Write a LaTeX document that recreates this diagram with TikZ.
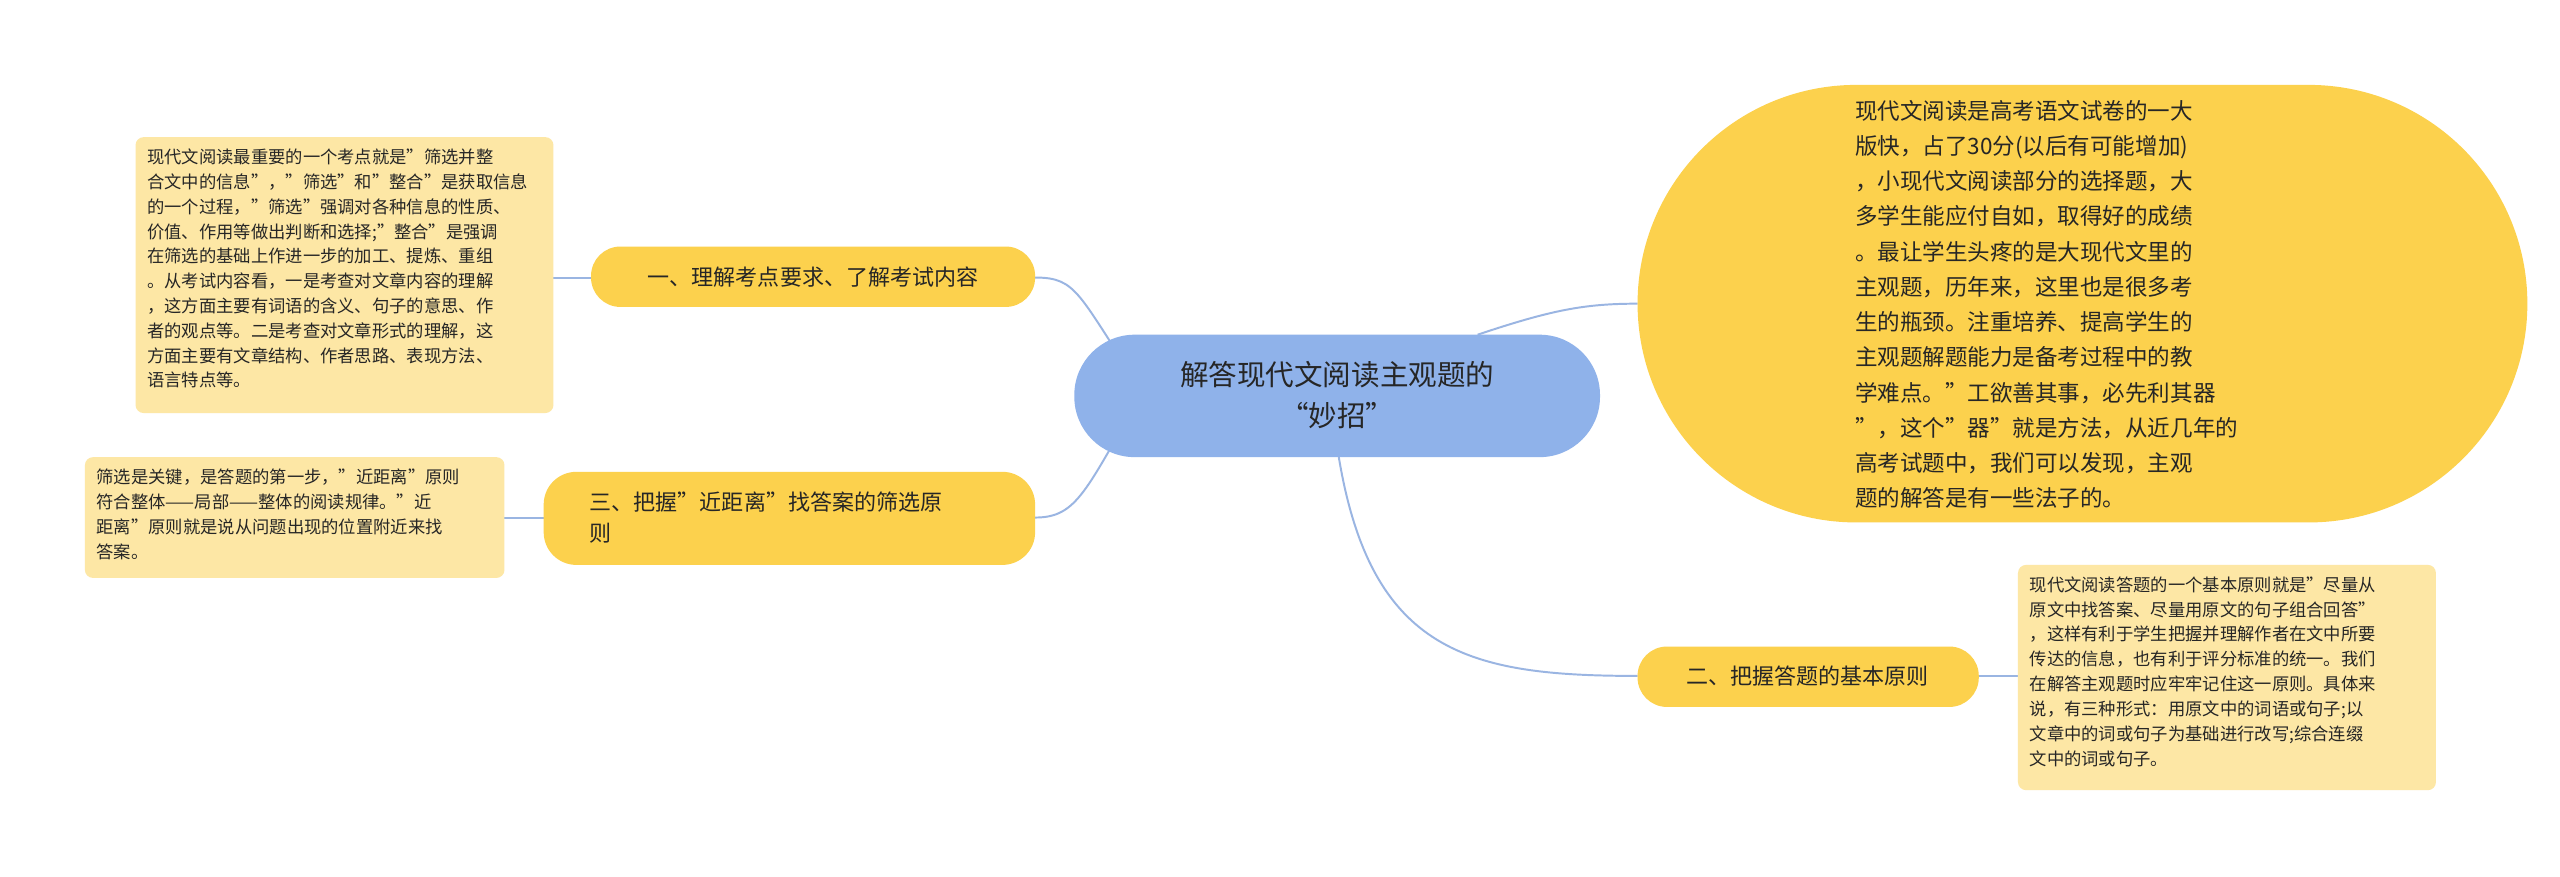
\documentclass[tikz,border=0pt]{standalone}
\usepackage{fontspec}
\setmainfont{Noto Sans CJK SC}
\begin{document}
\begin{tikzpicture}[x=1pt,y=-1pt,
  line/.style={draw=linkblue,line width=1.2pt},
  ntext/.style={anchor=north west,align=left,font=\fontsize{10.6}{15.2}\selectfont,text=black!85,inner sep=0pt},
  ttext/.style={align=left,font=\fontsize{13.5}{19}\selectfont,text=black!85,inner sep=0pt}]
\definecolor{linkblue}{HTML}{9AB5E2}
\definecolor{topicyel}{HTML}{FCD14D}
\definecolor{noteyel}{HTML}{FDE7A5}
\definecolor{centblue}{HTML}{8FB2EA}
\useasboundingbox[fill=white] (0,0) rectangle (1568,537);
% connectors
\coordinate (cB) at (820,280);
\coordinate (cR) at (905,205);
\coordinate (cL) at (700,240);
\draw[line] (cR) .. controls (950,190) and (970,186) .. (1003,186);
\draw[line] (cB) .. controls (840,400) and (900,414) .. (1003,414);
\draw[line] (cL) .. controls (660,180) and (660,170) .. (634,170);
\draw[line] (cL) .. controls (665,300) and (660,317) .. (634,317);
\draw[line] (362,170) -- (339,170);
\draw[line] (333,317) -- (309,317);
\draw[line] (1212,414) -- (1236,414);
% center
\fill[centblue,rounded corners=37pt] (658,205) rectangle (980,280);
\node[align=center,font=\fontsize{17.5}{25}\selectfont,text=black!85] (center) at (819,242) {解答现代文阅读主观题的\\“妙招”};
% right shape
\fill[topicyel,rounded corners=134pt] (1003,52) rectangle (1548,320);
\node[ttext,anchor=north west,font=\fontsize{13.8}{21.6}\selectfont] (intro) at (1136,61) {现代文阅读是高考语文试卷的一大\\版快，占了30分(以后有可能增加)\\，小现代文阅读部分的选择题，大\\多学生能应付自如，取得好的成绩\\。最让学生头疼的是大现代文里的\\主观题，历年来，这里也是很多考\\生的瓶颈。注重培养、提高学生的\\主观题解题能力是备考过程中的教\\学难点。"工欲善其事，必先利其器\\"，这个"器"就是方法，从近几年的\\高考试题中，我们可以发现，主观\\题的解答是有一些法子的。};
% topic 1
\fill[topicyel,rounded corners=18pt] (362,151) rectangle (634,188);
\node[ttext] (t1) at (498,170) {一、理解考点要求、了解考试内容};
\fill[noteyel,rounded corners=5pt] (83,84) rectangle (339,253);
\node[ntext] (n1) at (90,91) {现代文阅读最重要的一个考点就是"筛选并整\\合文中的信息"，"筛选"和"整合"是获取信息\\的一个过程，"筛选"强调对各种信息的性质、\\价值、作用等做出判断和选择;"整合"是强调\\在筛选的基础上作进一步的加工、提炼、重组\\。从考试内容看，一是考查对文章内容的理解\\，这方面主要有词语的含义、句子的意思、作\\者的观点等。二是考查对文章形式的理解，这\\方面主要有文章结构、作者思路、表现方法、\\语言特点等。};
% topic 3
\fill[topicyel,rounded corners=20pt] (333,289) rectangle (634,346);
\node[ttext,anchor=west] (t3) at (361,317) {三、把握"近距离"找答案的筛选原\\则};
\fill[noteyel,rounded corners=5pt] (52,280) rectangle (309,354);
\node[ntext] (n3) at (59,287) {筛选是关键，是答题的第一步，"近距离"原则\\符合整体——局部——整体的阅读规律。"近\\距离"原则就是说从问题出现的位置附近来找\\答案。};
% topic 2
\fill[topicyel,rounded corners=18pt] (1003,396) rectangle (1212,433);
\node[ttext] (t2) at (1107,414) {二、把握答题的基本原则};
\fill[noteyel,rounded corners=5pt] (1236,346) rectangle (1492,484);
\node[ntext] (n2) at (1243,353) {现代文阅读答题的一个基本原则就是"尽量从\\原文中找答案、尽量用原文的句子组合回答"\\，这样有利于学生把握并理解作者在文中所要\\传达的信息，也有利于评分标准的统一。我们\\在解答主观题时应牢牢记住这一原则。具体来\\说，有三种形式：用原文中的词语或句子;以\\文章中的词或句子为基础进行改写;综合连缀\\文中的词或句子。};
\end{tikzpicture}
\end{document}
